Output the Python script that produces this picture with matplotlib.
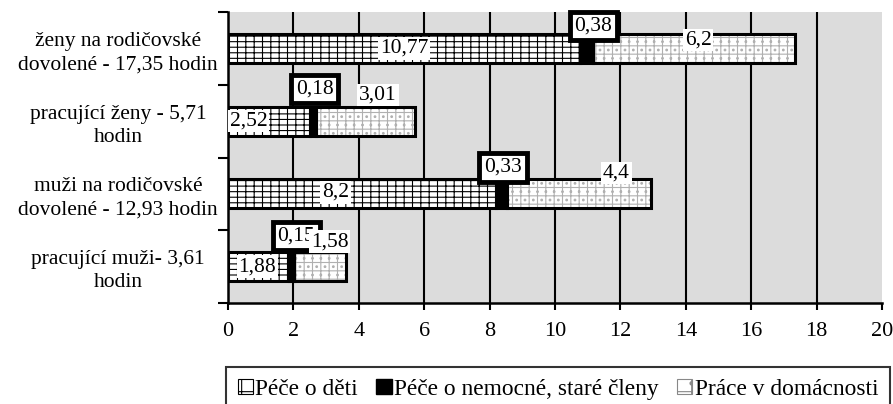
import numpy as np
import matplotlib.pyplot as plt
from matplotlib.patches import Patch

plt.rcParams['font.family'] = 'serif'
plt.rcParams['font.serif'] = ['Liberation Serif', 'DejaVu Serif']
plt.rcParams['hatch.linewidth'] = 0.8

# categories, top to bottom
categories = ['ženy na rodičovské\ndovolené - 17,35 hodin',
              'pracující ženy - 5,71\nhodin',
              'muži na rodičovské\ndovolené - 12,93 hodin',
              'pracující muži- 3,61\nhodin']
series = ['Péče o děti', 'Péče o nemocné, staré členy', 'Práce v domácnosti']
deti = [10.77, 2.52, 8.2, 1.88]
nemocne = [0.38, 0.18, 0.33, 0.15]
domacnost = [6.2, 3.01, 4.4, 1.58]
xticks = [0, 2, 4, 6, 8, 10, 12, 14, 16, 18, 20]

# label offsets (points) mimicking Excel's auto placement
off_deti = [(0, 0), (-15, 0), (-19, 1), (-1, 0)]
off_nem = [(5, 16), (1, 23), (1, 19), (3, 22)]
off_dom = [(3, 6), (9, 19), (27, 15), (7, 18)]

fig = plt.figure(figsize=(8.93, 4.04), dpi=100)
ax = fig.add_axes([228/893, 1-303/404, 654/893, 291/404])
ax.set_facecolor('#dcdcdc')

y = np.arange(len(categories))[::-1]
h = 0.4
deti = np.array(deti)
nemocne = np.array(nemocne)
domacnost = np.array(domacnost)

for xv in xticks[1:-1]:
    ax.axvline(xv, color='black', lw=1.5, zorder=1)

# Péče o děti - brick-like hatch
ax.barh(y, deti, height=h, color='white', edgecolor='black', hatch='---||', lw=0, zorder=2)
ax.barh(y, deti, height=h, fill=False, edgecolor='black', lw=2.2, zorder=3)
# Péče o nemocné
ax.barh(y, nemocne, left=deti, height=h, color='black', edgecolor='black', lw=2.2, zorder=3)
# Práce v domácnosti - light dotted grid
ax.barh(y, domacnost, left=deti+nemocne, height=h, color='white', edgecolor='#b0b0b0',
        hatch='++..', lw=0, zorder=2)
ax.barh(y, domacnost, left=deti+nemocne, height=h, fill=False, edgecolor='black', lw=2.2, zorder=3)

fmt = lambda v: ('%g' % v).replace('.', ',')
fs = 15.5
for i in range(len(categories)):
    ax.annotate(fmt(deti[i]), (deti[i]/2, y[i]), xytext=off_deti[i], textcoords='offset points',
                ha='center', va='center', fontsize=fs, zorder=5,
                bbox=dict(boxstyle='square,pad=0.08', fc='white', ec='none'))
    ax.annotate(fmt(nemocne[i]), (deti[i]+nemocne[i]/2, y[i]), xytext=off_nem[i], textcoords='offset points',
                ha='center', va='center', fontsize=fs, zorder=5,
                bbox=dict(boxstyle='square,pad=0.22', fc='white', ec='black', lw=3.5))
    ax.annotate(fmt(domacnost[i]), (deti[i]+nemocne[i]+domacnost[i]/2, y[i]), xytext=off_dom[i],
                textcoords='offset points', ha='center', va='center', fontsize=fs, zorder=6,
                bbox=dict(boxstyle='square,pad=0.08', fc='white', ec='none'))

ax.set_xlim(0, 20)
ax.set_ylim(-0.5, len(categories)-0.5)
ax.set_xticks(xticks)
ax.set_xticklabels([str(t) for t in xticks], fontsize=16)
ax.set_yticks(y)
ax.set_yticklabels(categories, fontsize=fs, ha='center', linespacing=1.3)
ax.tick_params(axis='y', length=0, pad=79)
ax.set_yticks(np.arange(-0.5, len(categories), 1), minor=True)
ax.tick_params(axis='y', which='minor', length=7, width=1.5, direction='out')
ax.tick_params(axis='x', length=5, width=1.5, direction='out', pad=9)
for s in ['top', 'right']:
    ax.spines[s].set_visible(False)
for s in ['left', 'bottom']:
    ax.spines[s].set_linewidth(1.8)

handles = [Patch(facecolor='white', edgecolor='black', hatch='-|', lw=0.8),
           Patch(facecolor='black', edgecolor='black'),
           Patch(facecolor='white', edgecolor='#888888', hatch='+.', lw=0.8)]
leg = fig.legend(handles, series, loc='upper left', bbox_to_anchor=(226/893, 1-367/404),
                 ncol=3, fontsize=16.8, frameon=True, fancybox=False, edgecolor='black',
                 handlelength=0.65, handleheight=0.65, handletextpad=0.1, columnspacing=0.8,
                 borderpad=0.5, borderaxespad=0.0)
leg.get_frame().set_linewidth(1.5)

fig.savefig('out.png', dpi=100)
